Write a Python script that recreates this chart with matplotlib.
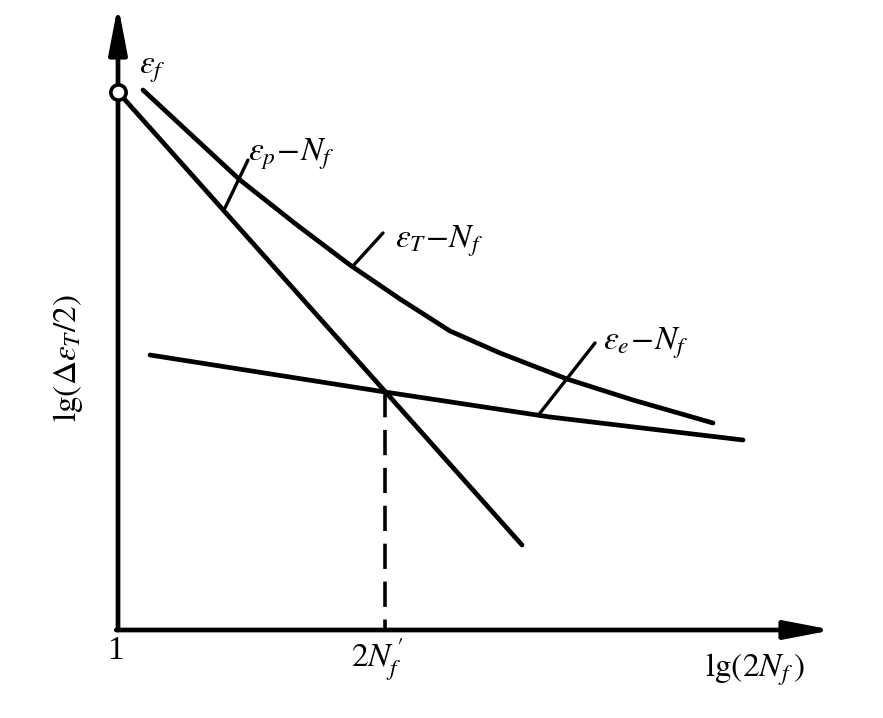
import matplotlib
matplotlib.use("Agg")
import matplotlib.pyplot as plt

# ---- Data (schematic units, origin at the axes corner) ----
total_x = [25, 122, 179, 232, 282, 332, 382, 449, 515, 595]
total_y = [540, 450, 405, 365, 331, 299, 277, 251, 230, 207]

plastic_x = [0, 404]
plastic_y = [538, 85]

elastic_x = [32, 267, 432, 625]
elastic_y = [275, 238, 213, 190]

transition_x = 267
transition_y = 238

# leader lines: (x0, x1), (y0, y1)
leader_p = ([107, 130], [422, 470])
leader_t = ([234, 265], [363, 397])
leader_e = ([422, 477], [217, 287])

x_tick_labels = ["1", r"$2N_f^{\,\prime}$"]
x_tick_pos = [-3, 259]

plt.rcParams["font.family"] = ["Liberation Serif", "DejaVu Serif"]
plt.rcParams["mathtext.fontset"] = "stix"

fig = plt.figure(figsize=(8.83, 7.18), dpi=100)
ax = fig.add_axes([0, 0, 1, 1])
ax.set_xlim(-118, 765)
ax.set_ylim(-88, 630)
ax.axis("off")

lw = 3.4
# axes with arrows
ax.annotate("", xy=(0, 625), xytext=(0, 0),
            arrowprops=dict(arrowstyle="-|>,head_length=1.3,head_width=0.25",
                            lw=lw, color="k", mutation_scale=22, shrinkA=0, shrinkB=0))
ax.annotate("", xy=(715, 0), xytext=(-1.7, 0),
            arrowprops=dict(arrowstyle="-|>,head_length=1.3,head_width=0.25",
                            lw=lw, color="k", mutation_scale=22, shrinkA=0, shrinkB=0))

# curves
ax.plot(total_x, total_y, color="k", lw=lw, solid_capstyle="round", solid_joinstyle="round")
ax.plot(plastic_x, plastic_y, color="k", lw=lw, solid_capstyle="round")
ax.plot(elastic_x, elastic_y, color="k", lw=lw, solid_capstyle="round", solid_joinstyle="round")
ax.plot([0], [plastic_y[0]], marker="o", ms=11, mfc="white", mec="k", mew=2.6, zorder=5)

# dashed drop line
ax.plot([transition_x, transition_x], [transition_y, 0], color="k", lw=2.6,
        linestyle=(0, (7, 3.5)))

# leaders
for lx, ly in (leader_p, leader_t, leader_e):
    ax.plot(lx, ly, color="k", lw=2.4, solid_capstyle="round")

fs = 24
ax.text(34, 560, r"$\varepsilon_f$", fontsize=fs, ha="center", va="center")
ax.text(130, 476, r"$\varepsilon_p\!-\!N_f$", fontsize=fs, ha="left", va="center")
ax.text(277, 389, r"$\varepsilon_T\!-\!N_f$", fontsize=fs, ha="left", va="center")
ax.text(485, 287, r"$\varepsilon_e\!-\!N_f$", fontsize=fs, ha="left", va="center")

for pos, lab in zip(x_tick_pos, x_tick_labels):
    ax.text(pos, -30 if pos > 0 else -21, lab, fontsize=fs, ha="center", va="center")

ax.text(637, -40, r"$\mathrm{lg}(2N_f\,)$", fontsize=fs, ha="center", va="center")
ax.text(-50, 272, r"$\mathrm{lg}(\Delta\varepsilon_T/2)$", fontsize=fs,
        ha="center", va="center", rotation=90)

fig.savefig("out.png", dpi=100, facecolor="white")
